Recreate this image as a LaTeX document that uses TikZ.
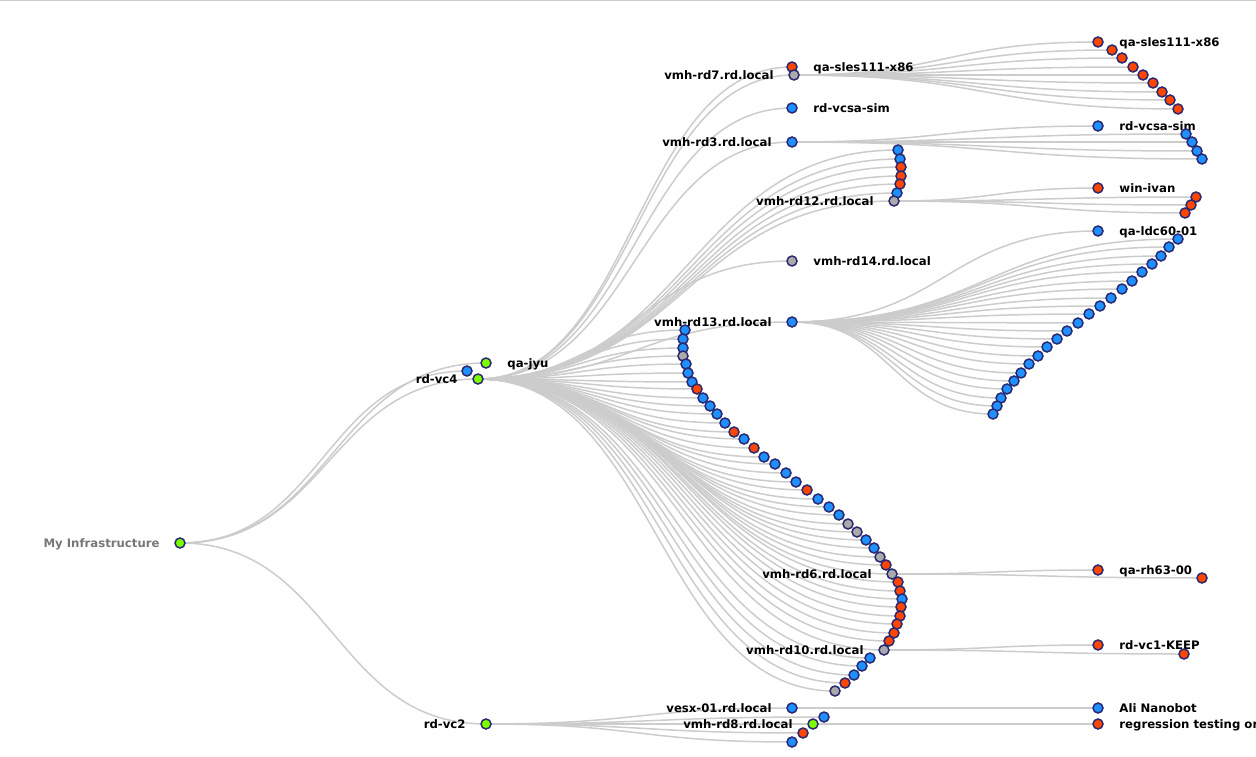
\documentclass[tikz,border=0pt]{standalone}
\usepackage{fontspec}
\setmainfont{DejaVu Sans}
\usetikzlibrary{calc,backgrounds}

\definecolor{linkgray}{HTML}{CCCCCC}
\definecolor{hostblue}{HTML}{1E90FF}
\definecolor{hostred}{HTML}{FF4500}
\definecolor{hostgray}{HTML}{AAAAAA}
\definecolor{hostgreen}{HTML}{7CFC00}
\definecolor{ringblue}{HTML}{2A2A72}
\definecolor{rootgray}{HTML}{777777}

\tikzstyle{vm} = [circle, draw=ringblue, line width=1.5pt, minimum size=10pt, inner sep=0pt]
\tikzstyle{tag} = [font=\bfseries\fontsize{11.7}{14}\selectfont, inner sep=0pt, text=black,
    yshift=-1.8pt]
\tikzstyle{tagl} = [tag, anchor=mid east, xshift=-14.5pt]
\tikzstyle{tagr} = [tag, anchor=mid west, xshift=15.5pt]
\tikzstyle{link} = [draw=linkgray, line width=1.5pt,
    to path={let \p1=(\tikztostart), \p2=(\tikztotarget) in
      .. controls ({(\x1+\x2)/2},\y1) and ({(\x1+\x2)/2},\y2) .. (\tikztotarget)}]

\begin{document}
\begin{tikzpicture}[x=1pt, y=-1pt]
\useasboundingbox (0,0) rectangle (1256,757);
\clip (0,0) rectangle (1256,757);
\draw[linkgray, line width=1pt] (0,0.5) -- (1256,0.5);

% root and vcenters
\node[vm, fill=hostgreen, label={[tagl, text=rootgray]left:My Infrastructure}] (root) at (180,543) {};
\node[vm, fill=hostblue] (vcx) at (467,371) {};
\node[vm, fill=hostgreen, label={[tagr]right:qa-jyu}] (qajyu) at (486,363) {};
\node[vm, fill=hostgreen, label={[tagl]left:rd-vc4}] (rdvc4) at (478,379) {};
\node[vm, fill=hostgreen, label={[tagl]left:rd-vc2}] (rdvc2) at (486,724) {};

% hosts under rd-vc4
\node[vm, fill=hostred, label={[tagr]right:qa-sles111-x86}] (qasles) at (792,67) {};
\node[vm, fill=hostgray, label={[tagl]left:vmh-rd7.rd.local}] (rd7) at (794,75) {};
\node[vm, fill=hostblue, label={[tagr]right:rd-vcsa-sim}] (vcsa) at (792,108) {};
\node[vm, fill=hostblue, label={[tagl]left:vmh-rd3.rd.local}] (rd3) at (792,142) {};
\foreach \x/\y/\c [count=\i] in {898/150/hostblue, 900/159/hostblue, 901/167/hostred,
    901/176/hostred, 900/184/hostred, 897/193/hostblue}
  \node[vm, fill=\c] (c\i) at (\x,\y) {};
\node[vm, fill=hostgray, label={[tagl]left:vmh-rd12.rd.local}] (rd12) at (894,201) {};
\node[vm, fill=hostgray, label={[tagr]right:vmh-rd14.rd.local}] (rd14) at (792,261) {};
\node[vm, fill=hostblue, label={[tagl]left:vmh-rd13.rd.local}] (rd13) at (792,322) {};
\foreach \x/\y/\c [count=\i] in {685/330/hostblue, 683/339/hostblue, 683/348/hostblue,
    683/356/hostgray, 686/364/hostblue, 688/373/hostblue, 692/382/hostblue, 697/389/hostred,
    703/398/hostblue, 710/406/hostblue, 717/414/hostblue, 725/423/hostblue, 734/432/hostred,
    744/439/hostblue, 754/448/hostred, 764/457/hostblue, 775/464/hostblue, 786/473/hostblue,
    796/482/hostblue, 807/490/hostred, 818/499/hostblue, 829/507/hostblue, 839/515/hostblue,
    848/524/hostgray, 857/532/hostgray, 866/540/hostblue, 874/548/hostblue, 880/557/hostgray,
    886/565/hostred}
  \node[vm, fill=\c] (a\i) at (\x,\y) {};
\node[vm, fill=hostgray, label={[tagl]left:vmh-rd6.rd.local}] (rd6) at (892,574) {};
\foreach \x/\y/\c [count=\i from 30] in {898/582/hostred, 900/591/hostred, 902/599/hostblue,
    901/607/hostred, 900/616/hostred, 897/624/hostred, 894/633/hostred, 889/641/hostred}
  \node[vm, fill=\c] (a\i) at (\x,\y) {};
\node[vm, fill=hostgray, label={[tagl]left:vmh-rd10.rd.local}] (rd10) at (884,650) {};
\foreach \x/\y/\c [count=\i from 38] in {870/658/hostblue, 862/666/hostblue, 854/675/hostblue,
    845/683/hostred, 835/691/hostgray}
  \node[vm, fill=\c] (a\i) at (\x,\y) {};

% hosts under rd-vc2
\node[vm, fill=hostblue, label={[tagl]left:vesx-01.rd.local}] (vesx) at (792,708) {};
\node[vm, fill=hostblue] (v1) at (824,717) {};
\node[vm, fill=hostgreen, label={[tagl]left:vmh-rd8.rd.local}] (rd8) at (813,724) {};
\node[vm, fill=hostred] (v2) at (803,733) {};
\node[vm, fill=hostblue] (v3) at (792,742) {};

% vms
\node[vm, fill=hostred, label={[tagr]right:qa-sles111-x86}] (sles) at (1098,42) {};
\foreach \x/\y [count=\i] in {1112/50, 1122/58, 1133/67, 1143/75, 1153/83, 1162/92,
    1170/100, 1178/109}
  \node[vm, fill=hostred] (s\i) at (\x,\y) {};
\node[vm, fill=hostblue, label={[tagr]right:rd-vcsa-sim}] (sim) at (1098,126) {};
\foreach \x/\y [count=\i] in {1186/134, 1192/142, 1197/151, 1202/159}
  \node[vm, fill=hostblue] (m\i) at (\x,\y) {};
\node[vm, fill=hostred, label={[tagr]right:win-ivan}] (ivan) at (1098,188) {};
\foreach \x/\y [count=\i] in {1196/197, 1191/205, 1185/213}
  \node[vm, fill=hostred] (w\i) at (\x,\y) {};
\node[vm, fill=hostblue, label={[tagr]right:qa-ldc60-01}] (ldc) at (1098,231) {};
\foreach \x/\y [count=\i] in {1178/239, 1169/247, 1161/256, 1152/264, 1142/272, 1132/281,
    1122/289, 1111/298, 1100/306, 1089/314, 1078/323, 1067/331, 1057/339, 1047/347,
    1038/356, 1029/364, 1021/373, 1014/381, 1007/389, 1001/398, 997/406, 993/414}
  \node[vm, fill=hostblue] (d\i) at (\x,\y) {};
\node[vm, fill=hostred, label={[tagr]right:qa-rh63-00}] (rh) at (1098,570) {};
\node[vm, fill=hostred] (rh2) at (1202,578) {};
\node[vm, fill=hostred, label={[tagr]right:rd-vc1-KEEP}] (keep) at (1098,645) {};
\node[vm, fill=hostred] (keep2) at (1184,654) {};
\node[vm, fill=hostblue, label={[tagr]right:Ali Nanobot}] (ali) at (1098,708) {};
\node[vm, fill=hostred, label={[tagr]right:regression testing or}] (regr) at (1098,724) {};

% links
\begin{scope}[on background layer]
\foreach \h in {vcx, qajyu, rdvc4, rdvc2}
  \draw[link] (root.center) to (\h.center);
\foreach \h in {qasles, rd7, vcsa, rd3, rd12, rd14, rd13, rd6, rd10}
  \draw[link] (rdvc4.center) to (\h.center);
\foreach \i in {1,...,6}
  \draw[link] (rdvc4.center) to (c\i.center);
\foreach \i in {1,...,42}
  \draw[link] (rdvc4.center) to (a\i.center);
\foreach \h in {vesx, v1, rd8, v2, v3}
  \draw[link] (rdvc2.center) to (\h.center);
\draw[link] (rd7.center) to (sles.center);
\foreach \i in {1,...,8}
  \draw[link] (rd7.center) to (s\i.center);
\draw[link] (rd3.center) to (sim.center);
\foreach \i in {1,...,4}
  \draw[link] (rd3.center) to (m\i.center);
\draw[link] (rd12.center) to (ivan.center);
\foreach \i in {1,...,3}
  \draw[link] (rd12.center) to (w\i.center);
\draw[link] (rd13.center) to (ldc.center);
\foreach \i in {1,...,22}
  \draw[link] (rd13.center) to (d\i.center);
\draw[link] (rd6.center) to (rh.center);
\draw[link] (rd6.center) to (rh2.center);
\draw[link] (rd10.center) to (keep.center);
\draw[link] (rd10.center) to (keep2.center);
\draw[link] (vesx.center) to (ali.center);
\draw[link] (rd8.center) to (regr.center);
\end{scope}
\end{tikzpicture}
\end{document}
